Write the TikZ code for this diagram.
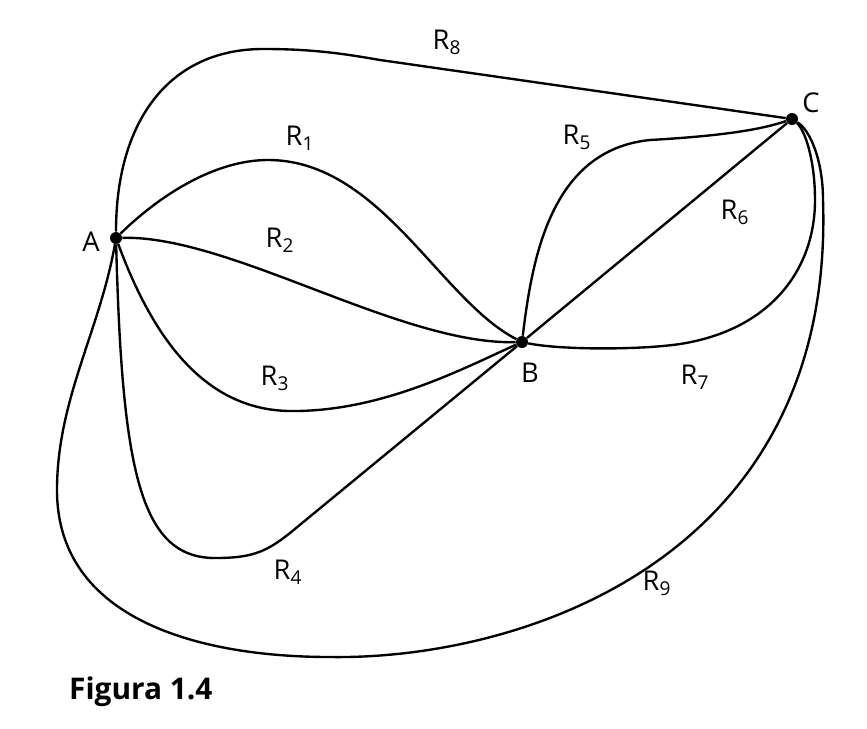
\documentclass[tikz,border=0pt]{standalone}
\usepackage{fontspec}
\setmainfont{Open Sans}
\usepackage{tikz}
\usetikzlibrary{positioning}
\tikzset{
  vtx/.style={circle, fill, inner sep=0pt, minimum size=2.4mm},
  lbl/.style={font=\fontsize{15.5}{18}\selectfont, inner sep=1pt},
  ln/.style={line width=1.35pt},
}

\begin{document}
\begin{tikzpicture}[x=0.2mm, y=-0.2mm]
  \useasboundingbox (0,0) rectangle (867,728);
  % the three points
  \node[vtx] (A) at (116,238) {};
  \node[vtx] (B) at (522,342) {};
  \node[vtx] (C) at (792,119) {};
  \node[lbl] (la) at (91,242) {A};
  \node[lbl] (lb) at (530,373) {B};
  \node[lbl] (lc) at (811,103) {C};
  % routes A-B
  \draw[ln] (A) .. controls (160,195) and (215,160) .. (268,160)
                .. controls (380,160) and (440,300) .. (B);
  \draw[ln] (A) .. controls (230,235) and (400,345) .. (B);
  \draw[ln] (A) .. controls (150,330) and (200,410) .. (290,411)
                .. controls (380,412) and (460,370) .. (B);
  \draw[ln] (A) .. controls (122,470) and (140,558) .. (215,558)
                .. controls (250,558) and (265,553) .. (290,533) -- (B);
  % routes B-C
  \draw[ln] (B) .. controls (532,260) and (550,150) .. (650,140)
                .. controls (720,136) and (760,130) .. (C);
  \draw[ln] (B) -- (C);
  \draw[ln] (B) .. controls (560,350) and (640,350) .. (680,344)
                .. controls (770,330) and (815,270) .. (815,200)
                .. controls (815,160) and (805,130) .. (C);
  % routes A-C
  \draw[ln] (A) .. controls (116,120) and (170,49) .. (263,49)
                .. controls (310,49) and (340,53) .. (380,60) -- (C);
  \draw[ln] (A) .. controls (100,330) and (57,400) .. (57,490)
                .. controls (57,620) and (200,657) .. (330,657)
                .. controls (520,660) and (835,560) .. (823,200)
                .. controls (823,160) and (810,130) .. (C);
  % route labels
  \node[lbl] (r1) at (300,138) {R\textsubscript{1}};
  \node[lbl] (r2) at (280,240) {R\textsubscript{2}};
  \node[lbl] (r3) at (275,378) {R\textsubscript{3}};
  \node[lbl] (r4) at (288,572) {R\textsubscript{4}};
  \node[lbl] (r5) at (577,137) {R\textsubscript{5}};
  \node[lbl] (r6) at (735,212) {R\textsubscript{6}};
  \node[lbl] (r7) at (695,377) {R\textsubscript{7}};
  \node[lbl] (r8) at (447,42) {R\textsubscript{8}};
  \node[lbl] (r9) at (657,583) {R\textsubscript{9}};
  \node[lbl, anchor=west, font=\fontsize{17}{20}\selectfont\bfseries] (cap) at (67,692) {Figura 1.4};
\end{tikzpicture}
\end{document}
